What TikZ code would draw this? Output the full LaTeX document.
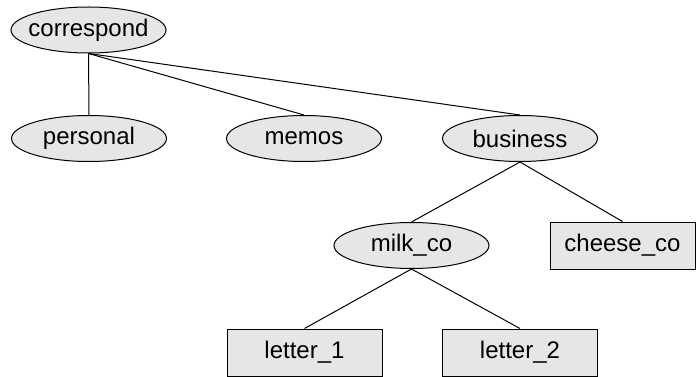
\documentclass[tikz,border=0pt]{standalone}
\usepackage{fontspec}
\setmainfont{Liberation Sans}
\usetikzlibrary{shapes.geometric}
\definecolor{boxfill}{RGB}{230,230,230}
\tikzset{
  x=1pt, y=-1pt,
  base/.style={draw=black, fill=boxfill, line width=1pt, inner sep=0pt, font=\fontsize{24}{28}\selectfont},
  oval/.style={base, ellipse, minimum width=155pt, minimum height=46pt},
  leaf/.style={base, rectangle, minimum width=155pt, minimum height=47pt},
  link/.style={line width=1pt, black}
}
\newcommand{\lbl}[1]{\makebox[0pt]{#1}}
\begin{document}
\begin{tikzpicture}
\useasboundingbox (0,0) rectangle (696,377);
\node[oval] (correspond) at (88.5,30) {\lbl{correspond}};
\node[oval] (personal) at (89,138.5) {\lbl{personal}};
\node[oval] (memos) at (304,138.5) {\lbl{memos}};
\node[oval] (business) at (520,138.5) {\lbl{business}};
\node[oval] (milk) at (411.5,245.5) {\lbl{milk\_co}};
\node[leaf, minimum width=145pt] (cheese) at (622.5,245.5) {cheese\_co};
\node[leaf] (l1) at (304.5,352.5) {letter\_1};
\node[leaf] (l2) at (520,352.5) {letter\_2};
\draw[link] (correspond.south) -- (personal.north);
\draw[link] (correspond.south) -- (memos.north);
\draw[link] (correspond.south) -- (business.north);
\draw[link] (business.south) -- (milk.north);
\draw[link] (business.south) -- (cheese.north);
\draw[link] (milk.south) -- (l1.north);
\draw[link] (milk.south) -- (l2.north);
\end{tikzpicture}
\end{document}
